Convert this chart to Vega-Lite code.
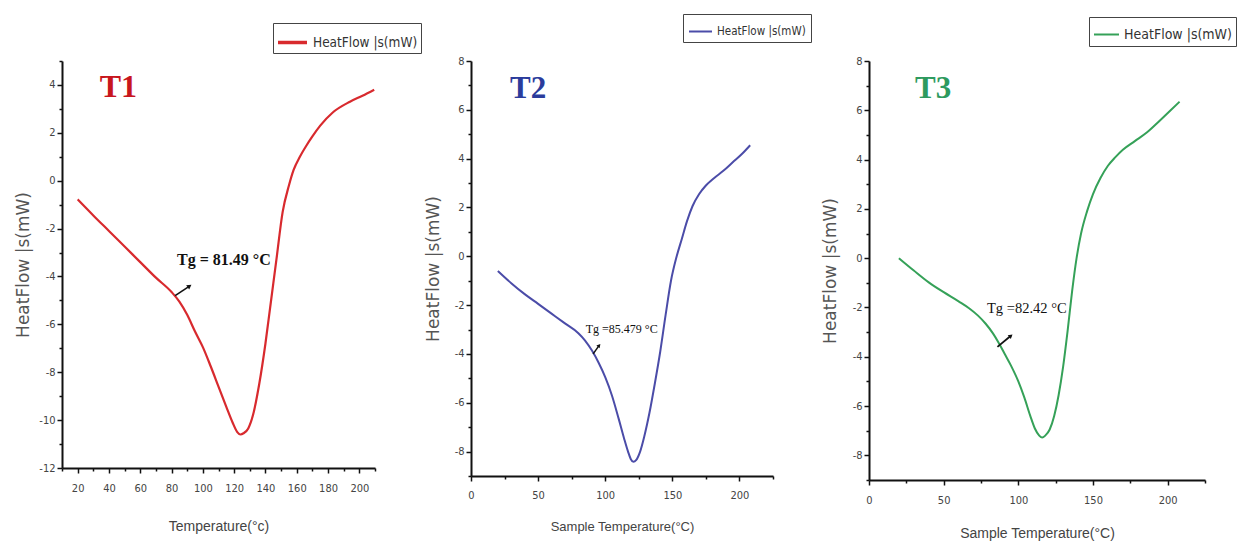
{
  "$schema": "https://vega.github.io/schema/vega-lite/v6.json",
  "background": "white",
  "padding": {"left": 14, "top": 13, "right": 2, "bottom": 2},
  "bounds": "flush",
  "spacing": 96,
  "config": {
    "view": {"stroke": null},
    "axis": {
      "grid": false,
      "domainColor": "#111",
      "domainWidth": 2,
      "tickColor": "#111",
      "tickWidth": 1.5,
      "labelFont": "Liberation Sans Narrow, DejaVu Sans Condensed, Liberation Sans, sans-serif",
      "labelColor": "#444",
      "labelFontSize": 11,
      "labelOverlap": false,
      "labelFlush": false,
      "titleFont": "Liberation Sans Narrow, Liberation Sans, sans-serif",
      "titleColor": "#444",
      "titleFontSize": 14,
      "titleFontWeight": "normal"
    },
    "axisY": {
      "titleFont": "DejaVu Sans, sans-serif",
      "titleFontSize": 17,
      "titleColor": "#555"
    },
    "legend": {
      "labelFont": "Liberation Sans Narrow, DejaVu Sans Condensed, Liberation Sans, sans-serif",
      "labelColor": "#333",
      "strokeColor": "#444",
      "padding": 4,
      "symbolType": "stroke"
    }
  },
  "datasets": {
    "t1": [
      {"T": 20, "HF": -0.78}, {"T": 30, "HF": -1.45}, {"T": 40, "HF": -2.1}, {"T": 50, "HF": -2.75},
      {"T": 60, "HF": -3.4}, {"T": 70, "HF": -4.05}, {"T": 80, "HF": -4.65}, {"T": 85, "HF": -5.05},
      {"T": 90, "HF": -5.6}, {"T": 95, "HF": -6.3}, {"T": 100, "HF": -6.95}, {"T": 105, "HF": -7.75},
      {"T": 110, "HF": -8.6}, {"T": 115, "HF": -9.45}, {"T": 119, "HF": -10.1}, {"T": 122, "HF": -10.5},
      {"T": 124, "HF": -10.6}, {"T": 126, "HF": -10.55}, {"T": 129, "HF": -10.35}, {"T": 132, "HF": -9.8},
      {"T": 136, "HF": -8.5}, {"T": 140, "HF": -6.8}, {"T": 143, "HF": -5.3}, {"T": 147, "HF": -3.3},
      {"T": 151, "HF": -1.3}, {"T": 155, "HF": -0.2}, {"T": 158, "HF": 0.45}, {"T": 162, "HF": 1.0},
      {"T": 166, "HF": 1.45}, {"T": 170, "HF": 1.85}, {"T": 175, "HF": 2.3}, {"T": 183, "HF": 2.85},
      {"T": 194, "HF": 3.3}, {"T": 202, "HF": 3.55}, {"T": 209.5, "HF": 3.8}
    ],
    "t2": [
      {"T": 20, "HF": -0.6}, {"T": 30, "HF": -1.1}, {"T": 40, "HF": -1.55}, {"T": 50, "HF": -1.95},
      {"T": 60, "HF": -2.35}, {"T": 70, "HF": -2.75}, {"T": 80, "HF": -3.15}, {"T": 85, "HF": -3.45},
      {"T": 90, "HF": -3.85}, {"T": 95, "HF": -4.35}, {"T": 100, "HF": -4.95}, {"T": 105, "HF": -5.7},
      {"T": 110, "HF": -6.65}, {"T": 114, "HF": -7.45}, {"T": 117, "HF": -8.0}, {"T": 119, "HF": -8.3},
      {"T": 121, "HF": -8.42}, {"T": 123, "HF": -8.35}, {"T": 126, "HF": -8.0}, {"T": 129, "HF": -7.4},
      {"T": 133, "HF": -6.4}, {"T": 137, "HF": -5.2}, {"T": 141, "HF": -3.9}, {"T": 145, "HF": -2.4},
      {"T": 149, "HF": -1.0}, {"T": 153, "HF": -0.05}, {"T": 157, "HF": 0.7}, {"T": 161, "HF": 1.45},
      {"T": 165, "HF": 2.05}, {"T": 170, "HF": 2.55}, {"T": 175, "HF": 2.9}, {"T": 181, "HF": 3.2},
      {"T": 188, "HF": 3.5}, {"T": 195, "HF": 3.85}, {"T": 202, "HF": 4.2}, {"T": 208, "HF": 4.55}
    ],
    "t3": [
      {"T": 20, "HF": 0.0}, {"T": 30, "HF": -0.5}, {"T": 40, "HF": -0.98}, {"T": 50, "HF": -1.38},
      {"T": 60, "HF": -1.75}, {"T": 67, "HF": -2.03}, {"T": 73, "HF": -2.33}, {"T": 78, "HF": -2.65},
      {"T": 83, "HF": -3.05}, {"T": 87, "HF": -3.45}, {"T": 91, "HF": -3.9}, {"T": 95, "HF": -4.35},
      {"T": 100, "HF": -5.0}, {"T": 104, "HF": -5.65}, {"T": 108, "HF": -6.4}, {"T": 111, "HF": -6.9},
      {"T": 114, "HF": -7.2}, {"T": 116, "HF": -7.28}, {"T": 118, "HF": -7.2}, {"T": 121, "HF": -6.95},
      {"T": 124, "HF": -6.4}, {"T": 127, "HF": -5.55}, {"T": 130, "HF": -4.4}, {"T": 133, "HF": -2.95},
      {"T": 136, "HF": -1.35}, {"T": 139, "HF": 0.0}, {"T": 142, "HF": 1.0}, {"T": 146, "HF": 1.9},
      {"T": 150, "HF": 2.6}, {"T": 155, "HF": 3.25}, {"T": 160, "HF": 3.75}, {"T": 165, "HF": 4.1},
      {"T": 170, "HF": 4.4}, {"T": 178, "HF": 4.75}, {"T": 186, "HF": 5.1}, {"T": 195, "HF": 5.6},
      {"T": 202, "HF": 6.0}, {"T": 208, "HF": 6.35}
    ]
  },
  "hconcat": [
    {
      "width": 313,
      "height": 407,
      "encoding": {
        "x": {
          "field": "T", "type": "quantitative",
          "scale": {"domain": [10, 210], "nice": false, "zero": false},
          "axis": {
            "title": "Temperature(°c)",
            "values": [10, 20, 30, 40, 50, 60, 70, 80, 90, 100, 110, 120, 130, 140, 150, 160, 170, 180, 190, 200, 210],
            "labelExpr": "datum.value % 20 == 0 && datum.value >= 20 && datum.value <= 200 ? '' + datum.value : ''",
            "tickSize": {"condition": {"test": "datum.value % 20 == 0", "value": 5}, "value": 3},
            "labelPadding": 9,
            "titlePadding": 26
          }
        },
        "y": {
          "field": "HF", "type": "quantitative",
          "scale": {"domain": [-12, 5], "nice": false, "zero": false},
          "axis": {
            "title": "HeatFlow |s(mW)",
            "values": [-12, -11, -10, -9, -8, -7, -6, -5, -4, -3, -2, -1, 0, 1, 2, 3, 4, 5],
            "labelExpr": "datum.value % 2 == 0 && datum.value <= 4 ? '' + datum.value : ''",
            "tickSize": {"condition": {"test": "datum.value % 2 == 0", "value": 5}, "value": 3},
            "titlePadding": 6
          }
        }
      },
      "layer": [
        {
          "data": {"name": "t1"},
          "mark": {"type": "line", "strokeWidth": 2.2, "interpolate": "monotone"},
          "encoding": {
            "color": {
              "datum": "HeatFlow |s(mW)", "type": "nominal",
              "scale": {"range": ["#d82a2e"]},
              "legend": {"title": null, "orient": "none", "legendX": 211, "legendY": -38, "labelFontSize": 13.5, "padding": 3, "symbolSize": 841, "symbolStrokeWidth": 3.5}
            }
          }
        },
        {
          "data": {"values": [{"T": 46, "HF": 3.9, "label": "T1"}]},
          "mark": {"type": "text", "font": "Liberation Serif", "fontWeight": "bold", "fontSize": 32, "color": "#c8161d"},
          "encoding": {"text": {"field": "label"}}
        },
        {
          "data": {"values": [{"T": 83.5, "HF": -3.3, "label": "Tg = 81.49 °C"}]},
          "mark": {"type": "text", "font": "Liberation Serif", "fontWeight": "bold", "fontSize": 16, "align": "left", "baseline": "middle", "color": "#111"},
          "encoding": {"text": {"field": "label"}}
        },
        {
          "data": {"values": [{"T": 82.3, "HF": -4.8, "T2": 91.5, "HF2": -4.4}]},
          "mark": {"type": "rule", "strokeWidth": 1.6, "color": "#111"},
          "encoding": {"x2": {"field": "T2"}, "y2": {"field": "HF2"}}
        },
        {
          "data": {"values": [{"T": 91.5, "HF": -4.4}]},
          "mark": {"type": "point", "shape": "triangle-up", "filled": true, "size": 28, "angle": 55, "color": "#111", "opacity": 1}
        }
      ]
    },
    {
      "width": 302,
      "height": 415,
      "encoding": {
        "x": {
          "field": "T", "type": "quantitative",
          "scale": {"domain": [0, 225], "nice": false, "zero": false},
          "axis": {
            "title": "Sample Temperature(°C)",
            "titleFontSize": 13,
            "values": [0, 25, 50, 75, 100, 125, 150, 175, 200, 225],
            "labelExpr": "datum.value % 50 == 0 && datum.value <= 200 ? '' + datum.value : ''",
            "tickSize": {"condition": {"test": "datum.value % 50 == 0", "value": 5}, "value": 3},
            "labelPadding": 8,
            "titlePadding": 20
          }
        },
        "y": {
          "field": "HF", "type": "quantitative",
          "scale": {"domain": [-9, 8], "nice": false, "zero": false},
          "axis": {
            "title": "HeatFlow |s(mW)",
            "values": [-9, -8, -7, -6, -5, -4, -3, -2, -1, 0, 1, 2, 3, 4, 5, 6, 7, 8],
            "labelExpr": "datum.value % 2 == 0 ? '' + datum.value : ''",
            "tickSize": {"condition": {"test": "datum.value % 2 == 0", "value": 5}, "value": 3},
            "titlePadding": 12
          }
        }
      },
      "layer": [
        {
          "data": {"name": "t2"},
          "mark": {"type": "line", "strokeWidth": 2, "interpolate": "monotone"},
          "encoding": {
            "color": {
              "datum": "HeatFlow |s(mW)", "type": "nominal",
              "scale": {"range": ["#4b4ca8"]},
              "legend": {"title": null, "orient": "none", "legendX": 212, "legendY": -47, "labelFontSize": 11.5, "padding": 5, "symbolSize": 529, "symbolStrokeWidth": 2}
            }
          }
        },
        {
          "data": {"values": [{"T": 42.5, "HF": 6.85, "label": "T2"}]},
          "mark": {"type": "text", "font": "Liberation Serif", "fontWeight": "bold", "fontSize": 31, "color": "#2b3c9c"},
          "encoding": {"text": {"field": "label"}}
        },
        {
          "data": {"values": [{"T": 85.5, "HF": -2.98, "label": "Tg =85.479 °C"}]},
          "mark": {"type": "text", "font": "Liberation Serif", "fontSize": 12, "align": "left", "baseline": "middle", "color": "#111"},
          "encoding": {"text": {"field": "label"}}
        },
        {
          "data": {"values": [{"T": 91, "HF": -4.0, "T2": 95.5, "HF2": -3.65}]},
          "mark": {"type": "rule", "strokeWidth": 1.5, "color": "#111"},
          "encoding": {"x2": {"field": "T2"}, "y2": {"field": "HF2"}}
        },
        {
          "data": {"values": [{"T": 95.5, "HF": -3.65}]},
          "mark": {"type": "point", "shape": "triangle-up", "filled": true, "size": 18, "angle": 40, "color": "#111", "opacity": 1}
        }
      ]
    },
    {
      "width": 336,
      "height": 419,
      "encoding": {
        "x": {
          "field": "T", "type": "quantitative",
          "scale": {"domain": [0, 225], "nice": false, "zero": false},
          "axis": {
            "title": "Sample Temperature(°C)",
            "values": [0, 25, 50, 75, 100, 125, 150, 175, 200, 225],
            "labelExpr": "datum.value % 50 == 0 && datum.value <= 200 ? '' + datum.value : ''",
            "tickSize": {"condition": {"test": "datum.value % 50 == 0", "value": 5}, "value": 3},
            "labelPadding": 9,
            "titlePadding": 21
          }
        },
        "y": {
          "field": "HF", "type": "quantitative",
          "scale": {"domain": [-9, 8], "nice": false, "zero": false},
          "axis": {
            "title": "HeatFlow |s(mW)",
            "values": [-9, -8, -7, -6, -5, -4, -3, -2, -1, 0, 1, 2, 3, 4, 5, 6, 7, 8],
            "labelExpr": "datum.value % 2 == 0 ? '' + datum.value : ''",
            "tickSize": {"condition": {"test": "datum.value % 2 == 0", "value": 5}, "value": 3},
            "titlePadding": 13
          }
        }
      },
      "layer": [
        {
          "data": {"name": "t3"},
          "mark": {"type": "line", "strokeWidth": 2, "interpolate": "monotone"},
          "encoding": {
            "color": {
              "datum": "HeatFlow |s(mW)", "type": "nominal",
              "scale": {"range": ["#35a158"]},
              "legend": {"title": null, "orient": "none", "legendX": 220, "legendY": -44, "labelFontSize": 14, "padding": 4, "symbolSize": 625, "symbolStrokeWidth": 2}
            }
          }
        },
        {
          "data": {"values": [{"T": 43, "HF": 6.85, "label": "T3"}]},
          "mark": {"type": "text", "font": "Liberation Serif", "fontWeight": "bold", "fontSize": 31, "color": "#2e9a5e"},
          "encoding": {"text": {"field": "label"}}
        },
        {
          "data": {"values": [{"T": 79, "HF": -2.08, "label": "Tg =82.42 °C"}]},
          "mark": {"type": "text", "font": "Liberation Serif", "fontSize": 14.5, "align": "left", "baseline": "middle", "color": "#111"},
          "encoding": {"text": {"field": "label"}}
        },
        {
          "data": {"values": [{"T": 86, "HF": -3.6, "T2": 95, "HF2": -3.15}]},
          "mark": {"type": "rule", "strokeWidth": 1.8, "color": "#111"},
          "encoding": {"x2": {"field": "T2"}, "y2": {"field": "HF2"}}
        },
        {
          "data": {"values": [{"T": 95, "HF": -3.15}]},
          "mark": {"type": "point", "shape": "triangle-up", "filled": true, "size": 24, "angle": 50, "color": "#111", "opacity": 1}
        }
      ]
    }
  ],
  "resolve": {
    "scale": {"x": "independent", "y": "independent", "color": "independent"},
    "axis": {"x": "independent", "y": "independent"},
    "legend": {"color": "independent"}
  }
}
